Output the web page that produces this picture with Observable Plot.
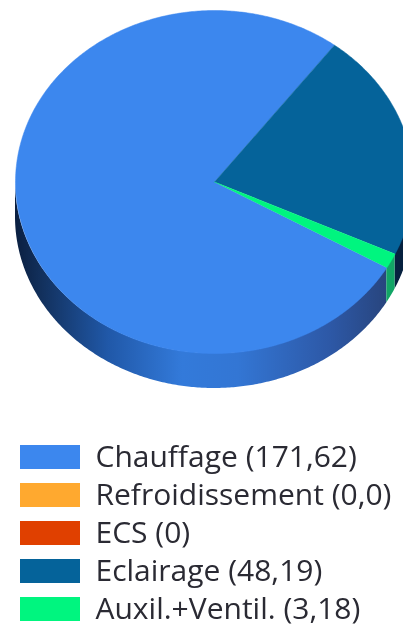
<!DOCTYPE html>
<html><head><meta charset="utf-8">
<script src="https://cdn.jsdelivr.net/npm/d3@7"></script>
<script src="https://cdn.jsdelivr.net/npm/@observablehq/plot@0.6"></script>
<style>html,body{margin:0;padding:0;background:#fff;overflow:hidden}svg{display:block}#c{filter:blur(0.6px)}</style>
</head><body><div id="c"></div>
<script>
const names = ["Chauffage","Refroidissement","ECS","Eclairage","Auxil.+Ventil."];
const values = [171.62,0,0,48.19,3.18];
const valueLabels = ["171,62","0,0","0","48,19","3,18"];
const topColors = ["#3c87ee","#ffa92f","#e04000","#05639a","#00f57f"];
const wallFills = ["url(#wallBlue)","#b07520","#a03000","#06213f","#12a566"];
const startDeg = 120, depth = 0.204;

const arcs = d3.pie().sort(null).startAngle(startDeg*Math.PI/180).endAngle((startDeg+360)*Math.PI/180)(values);
const pt = a => ({x: Math.sin(a), y: Math.cos(a)});
const arcPts = (a0,a1) => { const n = Math.max(2,Math.ceil((a1-a0)/0.01)); return d3.range(n+1).map(i => pt(a0+(a1-a0)*i/n)); };

const wedges = arcs.filter(d => d.value > 0).map(d => ({fill: topColors[d.index], pts:[{x:0,y:0},...arcPts(d.startAngle,d.endAngle)]}));
// front wall: the part of each slice on the lower half of the ellipse
const walls = [];
for (const d of arcs) {
  if (!d.value) continue;
  for (const k of [0,2]) {
    const a0 = Math.max(d.startAngle, Math.PI/2 + k*Math.PI), a1 = Math.min(d.endAngle, 3*Math.PI/2 + k*Math.PI);
    if (a1 > a0) walls.push({fill: wallFills[d.index], pts: arcPts(a0,a1)});
  }
}
const defs = () => {
  const s = d3.create("svg:defs");
  const g = s.append("linearGradient").attr("id","wallBlue");
  [[0,"#0a1f40"],[0.07,"#12305c"],[0.25,"#2058a8"],[0.45,"#337ada"],[0.6,"#3376d4"],[0.85,"#2d58a6"],[1,"#28457e"]]
    .forEach(([o,c]) => g.append("stop").attr("offset",o).attr("stop-color",c));
  return s.node();
};
const pie = Plot.plot({
  width:403,height:430,margin:0,
  x:{domain:[-1,1],range:[15,413],axis:null},
  y:{domain:[-1,1],range:[353,10],axis:null},
  marks:[
    defs,
    ...walls.map(w => Plot.areaY(w.pts,{x:"x",y1:"y",y2:d=>d.y-depth,fill:w.fill})),
    ...wedges.map(w => Plot.line(w.pts,{x:"x",y:"y",fill:w.fill,stroke:w.fill,strokeWidth:0.5}))
  ]
});
const rows = names.map((n,i) => ({label:`${n} (${valueLabels[i]})`,color:topColors[i]}));
const legend = Plot.plot({
  width:403,height:197,margin:0,
  x:{domain:[0,1],range:[20,80],axis:null},
  y:{domain:rows.map(r=>r.label),range:[5.5,199.5],paddingInner:0.38,paddingOuter:0.19,axis:null},
  marks:[
    Plot.barX(rows,{y:"label",x1:()=>0,x2:()=>1,fill:d=>d.color}),
    Plot.text(rows,{y:"label",x:()=>1,dx:15,text:"label",textAnchor:"start",fontSize:30,fontFamily:"Open Sans",fill:"#2a2a33"})
  ]
});
const c = document.getElementById("c"); c.append(pie,legend);
</script></body></html>
